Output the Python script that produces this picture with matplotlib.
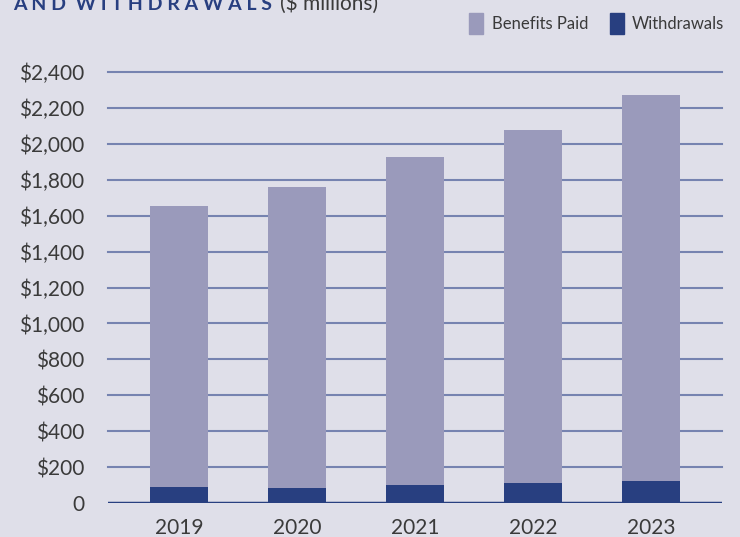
import matplotlib.pyplot as plt
from matplotlib.patches import Patch

years = ['2019', '2020', '2021', '2022', '2023']
withdrawals = [89, 84, 100, 111, 122]
benefits_paid = [1565, 1676, 1827, 1966, 2150]
yticks = [0, 200, 400, 600, 800, 1000, 1200, 1400, 1600, 1800, 2000, 2200, 2400]

bg = '#dfdfe9'
light = '#9a9abb'
dark = '#283f80'
grid = '#7683b0'
text_col = '#3a3a3a'

plt.rcParams['font.family'] = ['Lato', 'DejaVu Sans']

fig = plt.figure(figsize=(7.4, 5.37), dpi=100, facecolor=bg)
ax = fig.add_axes([108 / 740, 34 / 537, 614 / 740, 431 / 537])
ax.set_facecolor(bg)

x = range(len(years))
ax.bar(x, withdrawals, width=0.49, color=dark, zorder=3)
ax.bar(x, benefits_paid, width=0.49, bottom=withdrawals, color=light, zorder=3)

ax.set_ylim(0, 2400)
ax.set_xlim(-0.6, 4.6)
ax.set_yticks(yticks)
ax.set_yticklabels(['0'] + [f'${v:,}' for v in yticks[1:]])
ax.set_xticks(list(x))
ax.set_xticklabels(years)
ax.tick_params(length=0, labelsize=15, colors=text_col)
ax.tick_params(axis='x', pad=11)
ax.tick_params(axis='y', pad=17)

for v in yticks[1:]:
    ax.axhline(v, color=grid, lw=1.5, zorder=1, clip_on=False)
ax.axhline(0, color=dark, lw=2.5, zorder=4)

for s in ax.spines.values():
    s.set_visible(False)

# title, partially cut off at the top of the image as in the source
fig.text(13 / 740, 1 - 10 / 537, 'A N D  W I T H D R A W A L S', fontsize=14,
         fontweight='bold', color=dark, va='baseline', ha='left')
fig.text(280 / 740, 1 - 10 / 537, '($ millions)', fontsize=15,
         color=text_col, va='baseline', ha='left')

handles = [Patch(color=light, label='Benefits Paid'), Patch(color=dark, label='Withdrawals')]
fig.legend(handles=handles, loc='upper right', bbox_to_anchor=(1 - 4 / 740, 1 - 1 / 537),
           ncol=2, frameon=False, fontsize=12, handlelength=0.85, handleheight=1.6,
           handletextpad=0.5, columnspacing=1.3, borderaxespad=0.3, labelcolor=text_col)

fig.savefig('out.png', dpi=100, facecolor=bg)
